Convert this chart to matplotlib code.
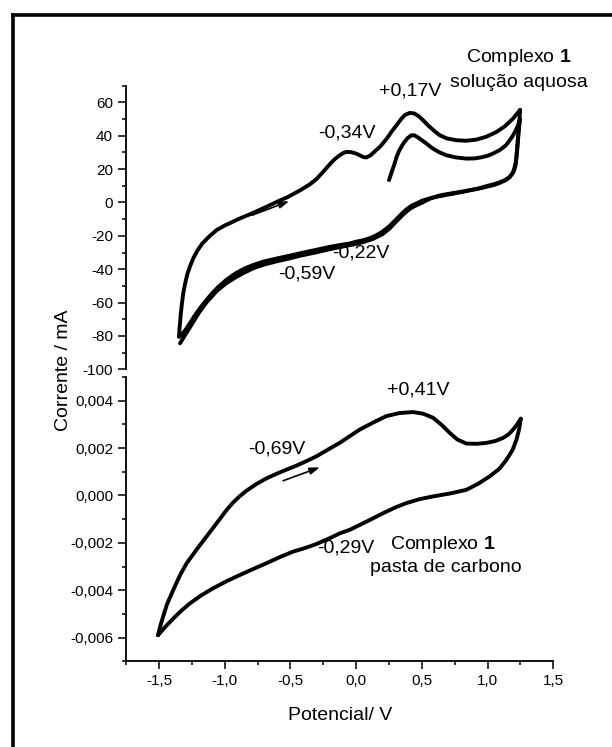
import matplotlib
matplotlib.use("Agg")
import matplotlib.pyplot as plt
from matplotlib.lines import Line2D
from matplotlib.ticker import MultipleLocator, FuncFormatter

plt.rcParams['font.family'] = ['Liberation Sans', 'DejaVu Sans']
plt.rcParams['mathtext.fontset'] = 'custom'
plt.rcParams['mathtext.rm'] = 'Liberation Sans'
plt.rcParams['mathtext.bf'] = 'Liberation Sans:bold'

# --- Complexo 1, solucao aquosa (mA) ---
aq_first_x = [0.25, 0.265, 0.28, 0.295, 0.307, 0.33, 0.36, 0.39, 0.42, 0.445,
              0.47, 0.5, 0.535, 0.58, 0.63, 0.687, 0.76, 0.839, 0.9, 0.95,
              1.0, 1.04, 1.09, 1.14, 1.184, 1.21, 1.23, 1.247]
aq_first_y = [13.4, 17, 20.5, 24, 27.3, 31.5, 35.5, 38.5, 40.3, 40.2,
              39, 37.3, 35.3, 32.5, 30.2, 28.3, 27, 26.3, 26.4, 27,
              28, 29.3, 31.3, 34.3, 39, 42.5, 46, 50]

aq_rev1_x = [1.247, 1.243, 1.238, 1.232, 1.225, 1.217, 1.21, 1.195, 1.17, 1.133,
             1.09, 1.05, 1.0, 0.93, 0.86, 0.8, 0.74, 0.677, 0.6, 0.54,
             0.5, 0.46, 0.42, 0.38, 0.35, 0.3, 0.256, 0.2, 0.15, 0.1,
             0.05, 0.0, -0.049, -0.1, -0.2, -0.3, -0.43, -0.5, -0.6, -0.7,
             -0.785, -0.85, -0.92, -0.99, -1.05, -1.1, -1.14, -1.19, -1.23, -1.266,
             -1.3, -1.33, -1.348]
aq_rev1_y = [55.5, 50, 45, 38, 31, 25, 21.3, 18, 15.4, 13.4,
             12, 11, 10, 8.4, 7.3, 6.2, 5.3, 4.4, 3.2, 2.0,
             1.0, -0.5, -2.0, -4.3, -6.5, -10.5, -14, -17.5, -19.8, -21.5,
             -22.7, -23.5, -24.6, -25.2, -26.6, -28.3, -30.5, -31.8, -33.5, -35.3,
             -37.5, -39.6, -42.6, -46.5, -50.7, -54.8, -58.5, -63.5, -68, -72.5,
             -76.5, -79.3, -80.5]

aq_fwd_x = [-1.348, -1.345, -1.34, -1.335, -1.325, -1.315, -1.30, -1.285, -1.266, -1.24,
            -1.21, -1.17, -1.12, -1.063, -1.0, -0.94, -0.886, -0.8, -0.683, -0.6,
            -0.52, -0.48, -0.42, -0.35, -0.3, -0.25, -0.2, -0.16, -0.125, -0.1,
            -0.074, -0.04, 0.0, 0.027, 0.055, 0.078, 0.11, 0.14, 0.18, 0.23,
            0.27, 0.307, 0.34, 0.37, 0.408, 0.44, 0.475, 0.509, 0.55, 0.6,
            0.636, 0.69, 0.763, 0.84, 0.915, 0.99, 1.068, 1.13, 1.194, 1.247]
aq_fwd_y = [-80.5, -76, -72, -67, -60, -54, -48, -43, -38.6, -33.5,
            -29, -24.5, -20.5, -16.6, -13.8, -11.6, -9.6, -6.8, -2.6, 0.5,
            3.3, 5, 7.6, 11, 14.2, 18.5, 23, 26.2, 28.3, 29.6,
            30.3, 30.2, 29.3, 28.3, 27.2, 27, 28.3, 30.5, 33.3, 38,
            42.5, 46.3, 49.8, 52.4, 53.7, 53.4, 51.8, 49.3, 46, 42.5,
            40.3, 38.4, 37.3, 37.0, 37.7, 39.4, 42.3, 45.6, 50.3, 55.5]

aq_rev2_x = [1.247, 1.238, 1.23, 1.222, 1.215, 1.2, 1.19, 1.165, 1.14, 1.1,
             1.05, 0.98, 0.915, 0.83, 0.75, 0.69, 0.636, 0.57, 0.5, 0.46,
             0.42, 0.38, 0.35, 0.3, 0.256, 0.2, 0.129, 0.06, 0.0, -0.1,
             -0.2, -0.3, -0.43, -0.5, -0.6, -0.7, -0.785, -0.86, -0.92, -0.99,
             -1.06, -1.14, -1.2, -1.266, -1.31, -1.34]
aq_rev2_y = [50, 44, 38, 30, 24, 19.5, 17.5, 15, 13.5, 12,
             10.5, 9.2, 8, 6.8, 5.8, 5, 4.2, 2.6, -0.2, -1.6,
             -3.2, -5.6, -7.8, -11.8, -15.5, -19, -21.8, -23.6, -24.8, -26.4,
             -28, -29.8, -32, -33.4, -35.2, -37.2, -39.5, -42.4, -45, -48.5,
             -53, -60, -66.5, -75, -80.5, -84.4]

# --- Complexo 1, pasta de carbono ---
cp_fwd_x = [-1.508, -1.49, -1.47, -1.44, -1.393, -1.34, -1.29, -1.215, -1.14, -1.06,
            -0.987, -0.94, -0.89, -0.835, -0.76, -0.683, -0.6, -0.53, -0.45, -0.378,
            -0.3, -0.226, -0.125, -0.05, 0.027, 0.13, 0.23, 0.33, 0.433, 0.51,
            0.585, 0.65, 0.712, 0.77, 0.839, 0.92, 0.992, 1.06, 1.118, 1.16,
            1.194, 1.225, 1.253]
cp_fwd_y = [-0.0059, -0.0055, -0.00513, -0.0046, -0.0040, -0.00336, -0.00286,
            -0.00229, -0.00174, -0.00116, -0.00062, -0.00032, -0.00005, 0.0002,
            0.00048, 0.00072, 0.00093, 0.00109, 0.00127, 0.00145, 0.00166,
            0.0019, 0.00222, 0.0025, 0.00278, 0.00308, 0.00335, 0.00348,
            0.00352, 0.00345, 0.00328, 0.00298, 0.00264, 0.00236, 0.00219,
            0.00218, 0.00222, 0.0023, 0.00243, 0.00258, 0.00278, 0.003, 0.00324]
cp_rev_x = [1.253, 1.24, 1.22, 1.19, 1.144, 1.09, 1.017, 0.93, 0.839, 0.72,
            0.585, 0.48, 0.383, 0.3, 0.205, 0.08, -0.049, -0.125, -0.2, -0.302,
            -0.39, -0.48, -0.58, -0.683, -0.786, -0.886, -0.99, -1.089, -1.18, -1.266,
            -1.33, -1.393, -1.45, -1.508]
cp_rev_y = [0.00324, 0.0028, 0.00236, 0.00192, 0.00151, 0.00113, 0.00081, 0.0005,
            0.00024, 0.00009, -0.00004, -0.00016, -0.00032, -0.0005, -0.00075,
            -0.0011, -0.00145, -0.0016, -0.0018, -0.00205, -0.00222, -0.00237,
            -0.0026, -0.00286, -0.00311, -0.00336, -0.00363, -0.00392, -0.00422,
            -0.00456, -0.00486, -0.0052, -0.00553, -0.0059]

x_ticks = [-1.5, -1.0, -0.5, 0.0, 0.5, 1.0, 1.5]

W, H = 612, 747
fig = plt.figure(figsize=(W / 100, H / 100), dpi=100)
left = 126.2 / W
width = (553.3 - 126.2) / W
ax1 = fig.add_axes([left, 1 - 369.3 / H, width, (369.3 - 85.7) / H])
ax2 = fig.add_axes([left, 1 - 661.3 / H, width, (661.3 - 377) / H])

lw = 2.8
kw = dict(color='black', lw=lw, solid_capstyle='round', solid_joinstyle='round')
ax1.plot(aq_first_x, aq_first_y, **kw)
ax1.plot(aq_rev1_x, aq_rev1_y, **kw)
ax1.plot(aq_fwd_x, aq_fwd_y, **kw)
ax1.plot(aq_rev2_x, aq_rev2_y, **kw)
ax2.plot(cp_fwd_x, cp_fwd_y, **kw)
ax2.plot(cp_rev_x, cp_rev_y, **kw)

comma = lambda fmt: FuncFormatter(lambda v, p: (fmt % v).replace('.', ','))

for ax in (ax1, ax2):
    ax.set_xlim(-1.75, 1.5)
    for s in ('top', 'right'):
        ax.spines[s].set_visible(False)
    ax.spines['left'].set_linewidth(1.3)
    ax.spines['bottom'].set_linewidth(1.3)
    ax.tick_params(which='major', direction='out', length=6, width=1.1, labelsize=11)
    ax.tick_params(which='minor', direction='out', length=3, width=1.1)
    ax.patch.set_alpha(0)

ax1.set_ylim(-100, 70)
ax1.spines['bottom'].set_visible(False)
ax1.set_xticks([])
ax1.yaxis.set_major_locator(MultipleLocator(20))
ax1.yaxis.set_minor_locator(MultipleLocator(10))
ax1.yaxis.set_major_formatter(FuncFormatter(lambda v, p: '%d' % round(v)))

ax2.set_ylim(-0.007, 0.005)
ax2.yaxis.set_major_locator(MultipleLocator(0.002))
ax2.yaxis.set_minor_locator(MultipleLocator(0.001))
ax2.yaxis.set_major_formatter(comma('%.3f'))
ax2.set_xticks(x_ticks)
ax2.xaxis.set_minor_locator(MultipleLocator(0.25))
ax2.xaxis.set_major_formatter(comma('%.1f'))

tk = dict(fontsize=14, ha='center', va='center')
ax1.text(1.237, 87.0, r'Complexo $\mathbf{1}$', clip_on=False, **tk)
ax1.text(1.237, 72.0, 'solução aquosa', clip_on=False, **tk)
ax1.text(0.408, 66.7, '+0,17V', **tk)
ax1.text(-0.072, 41.5, '-0,34V', **tk)
ax1.text(0.035, -30.4, '-0,22V', **tk)
ax1.text(-0.376, -42.9, '-0,59V', **tk)
ax2.text(0.476, 0.00444, '+0,41V', **tk)
ax2.text(-0.604, 0.00198, '-0,69V', **tk)
ax2.text(-0.079, -0.00222, '-0,29V', **tk)
ax2.text(0.659, -0.00205, r'Complexo $\mathbf{1}$', **tk)
ax2.text(0.682, -0.00306, 'pasta de carbono', **tk)

arrow = dict(arrowstyle='-|>,head_length=0.6,head_width=0.2', color='black', lw=1.2)
ax1.annotate('', xy=(-0.49, 1.4), xytext=(-0.81, -8.2), arrowprops=arrow)
ax2.annotate('', xy=(-0.256, 0.00123), xytext=(-0.576, 0.00058), arrowprops=arrow)

fig.text(64 / W, 1 - 370 / H, 'Corrente / mA', rotation=90, fontsize=14,
         ha='center', va='center')
fig.text(340 / W, 1 - 716 / H, 'Potencial/ V', fontsize=14, ha='center', va='center')

# outer frame (only left and top edges fall inside the canvas)
bx, by = 12.5 / W, 1 - 15 / H
fig.add_artist(Line2D([bx, bx], [-0.01, by], transform=fig.transFigure,
                      color='black', lw=2.6, solid_capstyle='projecting'))
fig.add_artist(Line2D([bx, 1.01], [by, by], transform=fig.transFigure,
                      color='black', lw=2.6, solid_capstyle='projecting'))

fig.savefig('out.png', dpi=100)
